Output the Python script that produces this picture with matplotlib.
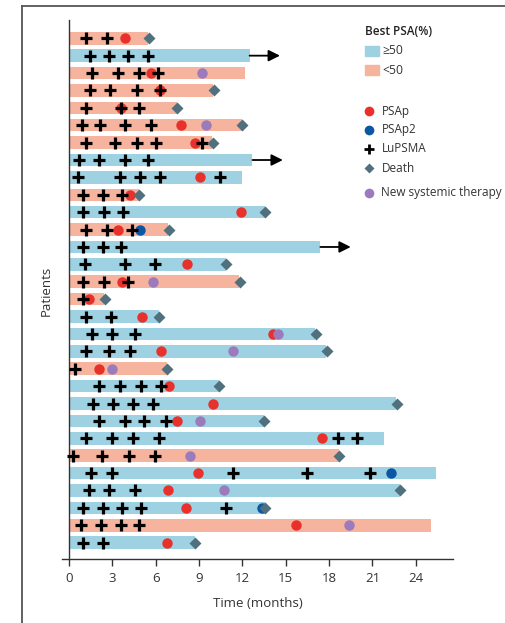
import matplotlib
matplotlib.use("Agg")
import matplotlib.pyplot as plt
from matplotlib.lines import Line2D
from matplotlib.patches import Rectangle

plt.rcParams['font.family'] = ['Open Sans', 'DejaVu Sans']

# ---- data (top row first) ----
best_psa = ['<50', '>=50', '<50', '<50', '<50', '<50', '<50', '>=50', '>=50', '<50',
            '>=50', '<50', '>=50', '>=50', '<50', '<50', '>=50', '>=50', '>=50', '<50',
            '>=50', '>=50', '>=50', '>=50', '<50', '>=50', '>=50', '>=50', '<50', '>=50']
bar_end = [5.5, 12.5, 12.2, 10.0, 7.5, 12.0, 9.9, 12.7, 12.0, 4.85,
           13.55, 6.85, 17.4, 10.85, 11.8, 2.45, 6.2, 17.05, 17.8, 6.8,
           10.4, 22.65, 13.5, 21.8, 18.7, 25.4, 22.9, 13.55, 25.05, 8.7]
ongoing = [False, True, False, False, False, False, False, True, False, False,
           False, False, True, False, False, False, False, False, False, False,
           False, False, False, False, False, False, False, False, False, False]
arrow_len = 2.1
lupsma = [
    [1.15, 2.6],
    [1.45, 2.8, 4.1, 5.5],
    [1.6, 3.4, 4.85, 6.15],
    [1.45, 2.85, 4.7, 6.3],
    [1.15, 3.6, 4.85],
    [0.9, 2.15, 3.9, 5.7],
    [1.2, 3.2, 4.7, 6.0, 9.2],
    [0.7, 2.1, 3.9, 5.5],
    [0.65, 3.5, 4.9, 6.3, 10.45],
    [0.95, 2.35, 3.65],
    [1.0, 2.4, 3.75],
    [1.2, 2.6, 4.35],
    [0.95, 2.35, 3.6],
    [1.1, 3.9, 5.95],
    [1.0, 2.4, 4.1],
    [1.0],
    [1.15, 2.9],
    [1.6, 3.0, 4.55],
    [1.2, 2.8, 4.2],
    [0.4],
    [2.1, 3.5, 5.0, 6.4],
    [1.65, 3.05, 4.45, 5.8],
    [2.05, 3.85, 5.2, 6.7],
    [1.2, 3.0, 4.4, 6.2, 18.6, 19.9],
    [0.3, 2.25, 4.15, 5.95],
    [1.55, 2.95, 11.35, 16.5, 20.85],
    [1.4, 2.75, 4.55],
    [0.95, 2.35, 3.65, 5.0, 10.9],
    [0.85, 2.2, 3.6, 4.85],
    [1.0, 2.35],
]
psap = [3.9, None, 5.7, 6.3, 3.6, 7.75, 8.75, None, 9.05, 4.2,
        11.9, 3.4, None, 8.15, 3.7, 1.4, 5.05, 14.1, 6.4, 2.05,
        6.9, 10.0, 7.45, 17.5, None, 8.9, 6.85, 8.1, 15.7, 6.75]
psap2 = [None, None, None, None, None, None, None, None, None, None,
         None, 4.9, None, None, None, None, None, None, None, None,
         None, None, None, None, None, 22.3, None, 13.35, None, None]
death = [5.55, None, None, 10.05, 7.5, 12.0, 9.95, None, None, 4.85,
         13.55, 6.9, None, 10.85, 11.85, 2.5, 6.25, 17.1, 17.85, 6.8,
         10.4, 22.7, 13.5, None, 18.7, None, 22.9, 13.6, None, 8.75]
new_therapy = [None, None, 9.2, None, None, 9.45, None, None, None, None,
               None, None, None, None, 5.8, None, None, 14.45, 11.35, 2.95,
               None, None, 9.1, None, 8.4, None, 10.75, None, 19.35, None]
xticks = [0, 3, 6, 9, 12, 15, 18, 21, 24]

# ---- styles ----
c_hi = '#9ed2e3'
c_lo = '#f6b39d'
c_red = '#e8312a'
c_dblue = '#0c57a3'
c_death = '#50707e'
c_purple = '#9b7bbb'
txt = '#333333'

W, H = 506, 623
fig = plt.figure(figsize=(W / 100, H / 100), dpi=100)

# outer frame (left & top border of the source panel)
fig.add_artist(Line2D([22 / W, 22 / W], [0, 1 - 6 / H], color='#555555', lw=1.3))
fig.add_artist(Line2D([22 / W, 1], [1 - 6 / H, 1 - 6 / H], color='#555555', lw=1.3))

left_px, right_px, top_px, bot_px = 61.8, 453.3, 20, 559
ax = fig.add_axes([left_px / W, 1 - bot_px / H, (right_px - left_px) / W, (bot_px - top_px) / H])

n = len(bar_end)
ys = [n - 1 - i for i in range(n)]
bar_h = 0.72

for i in range(n):
    y = ys[i]
    col = c_hi if best_psa[i] == '>=50' else c_lo
    ax.barh(y, bar_end[i], left=0, height=bar_h, color=col, zorder=1)
    if ongoing[i]:
        ax.annotate('', xy=(bar_end[i] + arrow_len, y), xytext=(bar_end[i], y),
                    arrowprops=dict(arrowstyle='-|>', color='black', lw=1.3,
                                    mutation_scale=17, shrinkA=0, shrinkB=0),
                    zorder=6)
    if psap[i] is not None:
        ax.plot(psap[i], y, 'o', color=c_red, ms=7.5, mec='none', zorder=3)
    if psap2[i] is not None:
        ax.plot(psap2[i], y, 'o', color=c_dblue, ms=7.5, mec='none', zorder=3)
    if new_therapy[i] is not None:
        ax.plot(new_therapy[i], y, 'o', color=c_purple, ms=7.5, mec='none', zorder=4)
    ax.plot(lupsma[i], [y] * len(lupsma[i]), '+', color='black', ms=8, mew=2.3, zorder=5)
    if death[i] is not None:
        ax.plot(death[i], y, 'D', color=c_death, ms=6, mec='none', zorder=6)

ax.set_xlim(-0.5, 26.6)
ax.set_ylim(-0.94, n - 1 + 1.05)
ax.spines['left'].set_position(('data', 0))
for s in ['top', 'right']:
    ax.spines[s].set_visible(False)
ax.spines['left'].set_color('#333333')
ax.spines['bottom'].set_color('#333333')
ax.spines['left'].set_linewidth(1.0)
ax.spines['bottom'].set_linewidth(1.0)
ax.set_yticks([])
ax.set_xticks(xticks)
ax.set_xticklabels([str(t) for t in xticks])
ax.tick_params(axis='x', direction='out', length=5, width=1.0, color='#333333',
               labelsize=9.5, labelcolor=txt, pad=4)
ax.set_xlabel('Time (months)', fontsize=9.5, color=txt, labelpad=9)
fig.text(46.7 / W, 1 - 291 / H, 'Patients', rotation=90, ha='center', va='center',
         fontsize=9.5, color=txt)

# ---- legend ----
def fx(px):
    return px / W

def fy(py):
    return 1 - py / H

fig.text(fx(365), fy(31.5), 'Best PSA(%)', fontsize=8.5, fontweight='semibold',
         color='#222222', ha='left', va='center')
for py, col, lab in [(51, c_hi, '\u226550'), (70, c_lo, '<50')]:
    fig.add_artist(Rectangle((fx(365), fy(py + 5)), 14 / W, 10 / H,
                             transform=fig.transFigure, color=col))
    fig.text(fx(382.5), fy(py), lab, fontsize=8.7, color=txt, ha='left', va='center')

items = [
    (111.5, 'o', c_red, 7, 0, 'PSAp'),
    (130, 'o', c_dblue, 7, 0, 'PSAp2'),
    (148.5, '+', 'black', 7, 2.0, 'LuPSMA'),
    (168, 'D', c_death, 5.5, 0, 'Death'),
    (192.5, 'o', c_purple, 7, 0, 'New systemic therapy'),
]
for py, m, col, ms, mew, lab in items:
    if m == '+':
        fig.add_artist(Line2D([fx(369)], [fy(py)], marker=m, color=col, ms=ms, mew=mew,
                              transform=fig.transFigure))
    else:
        fig.add_artist(Line2D([fx(369)], [fy(py)], marker=m, color=col, ms=ms, mec='none',
                              transform=fig.transFigure))
    fig.text(fx(381.5), fy(py), lab, fontsize=8.5, color=txt, ha='left', va='center')

fig.savefig('out.png', dpi=100)
